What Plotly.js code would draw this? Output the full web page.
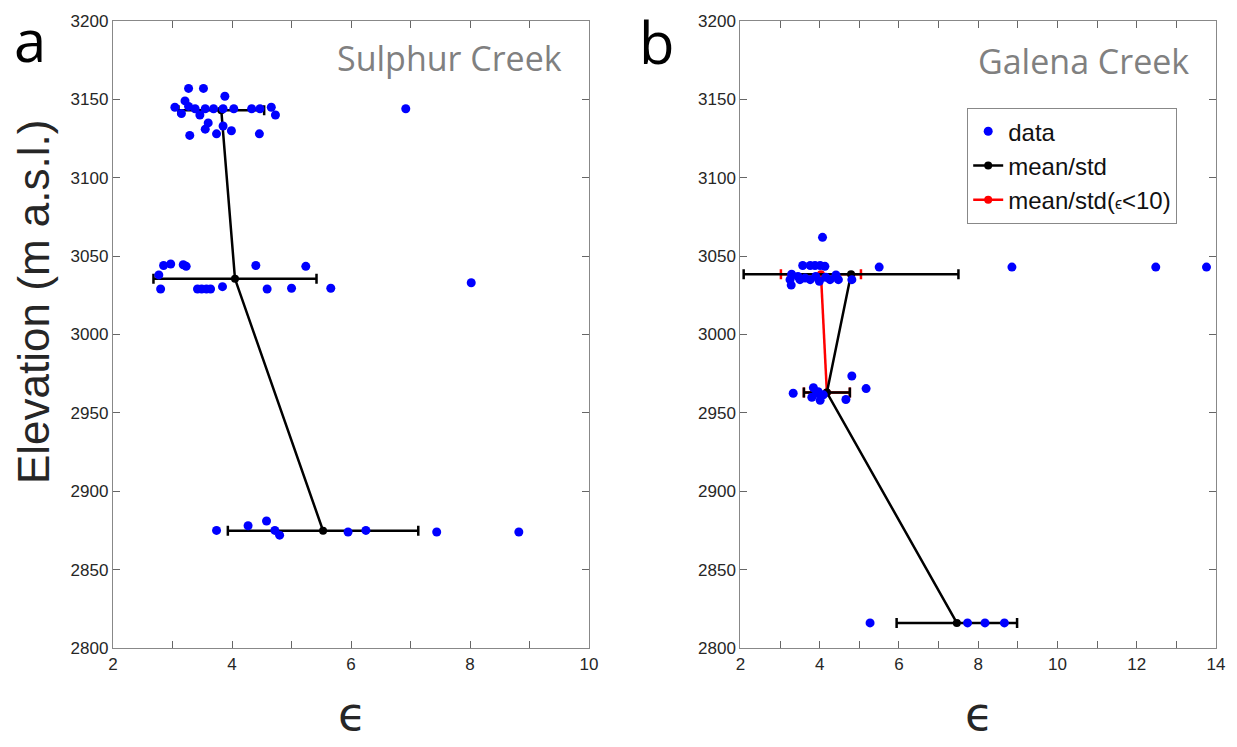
<!DOCTYPE html>
<html>
<head>
<meta charset="utf-8">
<script src="https://cdn.plot.ly/plotly-3.0.1.min.js"></script>
<style>html,body{margin:0;padding:0;background:#fff;}#chart{width:1237px;height:747px;}</style>
</head>
<body>
<div id="chart"></div>
<script>
// ---- Sulphur Creek (panel a) ----
const sulphurEps = [3.27,3.52,3.88,3.21,3.04,3.27,3.38,3.55,3.69,3.85,4.03,4.33,4.47,4.66,4.73,3.15,3.46,3.60,3.55,3.85,3.99,3.29,3.74,4.46,6.92,
  2.85,2.97,3.18,3.23,2.77,2.80,3.42,3.49,3.57,3.64,3.84,4.40,5.24,4.59,5.00,5.66,8.02,
  3.74,4.27,4.58,4.72,4.80,5.95,6.25,7.44,8.82];
const sulphurElev = [3157,3157,3152,3149,3145,3145.5,3144,3144,3144,3144,3144,3144,3144,3145,3140,3141,3140,3135,3131,3133,3130,3127,3128,3128,3144,
  3044,3045,3044.5,3043.5,3038,3029,3029,3029,3029,3029,3030.5,3044,3043.5,3029,3029.5,3029.5,3033,
  2875,2878,2881,2875,2872,2874,2875,2874,2874];
const sulphurMeanEps = [3.82,4.05,5.53];
const sulphurMeanElev = [3143,3035.5,2874.8];
const sulphurStd = [0.72,1.37,1.60];

// ---- Galena Creek (panel b) ----
const galenaEps = [4.07,3.57,3.76,3.88,4.01,4.13,5.50,3.29,3.25,3.28,3.50,3.63,3.76,3.99,4.26,4.41,4.47,4.81,3.45,3.90,4.15,8.85,12.48,13.76,
  3.33,3.84,3.80,4.01,3.96,4.09,3.92,4.81,5.17,4.66,
  5.27,7.73,8.17,8.66];
const galenaElev = [3062,3044,3044,3044,3044,3043.5,3043,3038.5,3035,3031.5,3035,3036,3035,3034,3035,3038,3035,3035,3037,3037,3036.5,3043,3043,3043,
  2962.5,2966,2960,2958,2963.5,2961.5,2962.5,2973.5,2965.5,2958.5,
  2816,2816,2816,2816];
const galenaMeanEps = [4.79,4.18,7.46];
const galenaMeanElev = [3038.5,2963,2816];
const galenaStd = [2.71,0.58,1.52];
const galenaSubMeanEps = [4.03,4.18];
const galenaSubMeanElev = [3038.5,2963];
const galenaSubStd = [1.01,0.58];

const xTicksA = [2,3,4,5,6,7,8,9,10];
const xTicksB = [2,3,4,5,6,7,8,9,10,11,12,13,14];
const yTicks = [2800,2850,2900,2950,3000,3050,3100,3150,3200];

const BLUE = '#0000ff';
function errTrace(xs, ys, sd, color, xa, ya, name, show, rank) {
  return {
    type: 'scatter', mode: 'lines+markers', x: xs, y: ys, xaxis: xa, yaxis: ya,
    name: name, showlegend: show, legendrank: rank,
    line: {color: color, width: 2.5},
    marker: {color: color, size: 8},
    error_x: {type: 'data', array: sd, visible: true, color: color, thickness: 2.5, width: 5},
    hoverinfo: 'skip'
  };
}
const traces = [
  errTrace(sulphurMeanEps, sulphurMeanElev, sulphurStd, '#000', 'x', 'y', 'mean/std', false, 2),
  {type:'scatter', mode:'markers', x: sulphurEps, y: sulphurElev, xaxis:'x', yaxis:'y', showlegend:false,
   marker:{color:BLUE, size:9}},
  errTrace(galenaSubMeanEps, galenaSubMeanElev, galenaSubStd, '#ff0000', 'x2', 'y2', 'mean/std(<span style="font-size:16px">\u03f5</span><10)', true, 3),
  errTrace(galenaMeanEps, galenaMeanElev, galenaStd, '#000', 'x2', 'y2', 'mean/std', true, 2),
  {type:'scatter', mode:'markers', x: galenaEps, y: galenaElev, xaxis:'x2', yaxis:'y2', name:'data', showlegend:true, legendrank:1,
   marker:{color:BLUE, size:9}}
];

function tickText(vals) { return vals.map(v => (v % 2 === 0 ? String(v) : '')); }
const axisCommon = {
  showgrid: false, zeroline: false, showline: true, linecolor: '#888', linewidth: 1.2,
  mirror: 'ticks', ticks: 'inside', ticklen: 7, tickwidth: 1, tickcolor: '#666',
  tickfont: {family: 'Liberation Sans, Arial, sans-serif', size: 17, color: '#262626'}
};
function px2x(px) { return (px - 113) / 1103; }
function px2y(py) { return (648 - py) / 627; }

const layout = {
  width: 1237, height: 747,
  margin: {l: 113, r: 21, t: 21, b: 99},
  paper_bgcolor: '#fff', plot_bgcolor: '#fff',
  xaxis: Object.assign({}, axisCommon, {domain: [0, 0.4316], range: [2, 10], tickmode: 'array', tickvals: xTicksA, ticktext: tickText(xTicksA), anchor: 'y'}),
  yaxis: Object.assign({}, axisCommon, {range: [2800, 3200], tickmode: 'array', tickvals: yTicks, anchor: 'x'}),
  xaxis2: Object.assign({}, axisCommon, {domain: [0.5689, 1], range: [2, 14], tickmode: 'array', tickvals: xTicksB, ticktext: tickText(xTicksB), anchor: 'y2'}),
  yaxis2: Object.assign({}, axisCommon, {range: [2800, 3200], tickmode: 'array', tickvals: yTicks, anchor: 'x2'}),
  showlegend: true,
  legend: {x: px2x(967), y: px2y(108), xanchor: 'left', yanchor: 'top', bgcolor: '#fff', bordercolor: '#888', borderwidth: 1.2,
    font: {family: 'Liberation Sans, Arial, sans-serif', size: 24, color: '#111'}, itemwidth: 30, tracegroupgap: 0},
  annotations: [
    {text: 'Elevation (m a.s.l.)', xref: 'paper', yref: 'paper', x: px2x(33), y: px2y(302), xanchor: 'center', yanchor: 'middle', textangle: -90, showarrow: false,
     font: {family: 'Liberation Sans, Arial, sans-serif', size: 44, color: '#262626'}},
    {text: '\u03f5', xref: 'paper', yref: 'paper', x: px2x(352), y: px2y(714), xanchor: 'center', yanchor: 'middle', showarrow: false,
     font: {family: 'DejaVu Sans, sans-serif', size: 46, color: '#262626'}},
    {text: '\u03f5', xref: 'paper', yref: 'paper', x: px2x(979), y: px2y(714), xanchor: 'center', yanchor: 'middle', showarrow: false,
     font: {family: 'DejaVu Sans, sans-serif', size: 46, color: '#262626'}},
    {text: 'Sulphur Creek', xref: 'paper', yref: 'paper', x: px2x(449), y: px2y(58), xanchor: 'center', yanchor: 'middle', showarrow: false,
     font: {family: 'Open Sans, sans-serif', size: 34, color: '#808080'}},
    {text: 'Galena Creek', xref: 'paper', yref: 'paper', x: px2x(1083), y: px2y(61), xanchor: 'center', yanchor: 'middle', showarrow: false,
     font: {family: 'Open Sans, sans-serif', size: 34, color: '#808080'}},
    {text: 'a', xref: 'paper', yref: 'paper', x: px2x(30), y: px2y(40), xanchor: 'center', yanchor: 'middle', showarrow: false,
     font: {family: 'Open Sans, sans-serif', size: 58, color: '#000'}},
    {text: 'b', xref: 'paper', yref: 'paper', x: px2x(657), y: px2y(42), xanchor: 'center', yanchor: 'middle', showarrow: false,
     font: {family: 'Open Sans, sans-serif', size: 58, color: '#000'}}
  ]
};
Plotly.newPlot('chart', traces, layout, {displayModeBar: false, staticPlot: true});
</script>
</body>
</html>
